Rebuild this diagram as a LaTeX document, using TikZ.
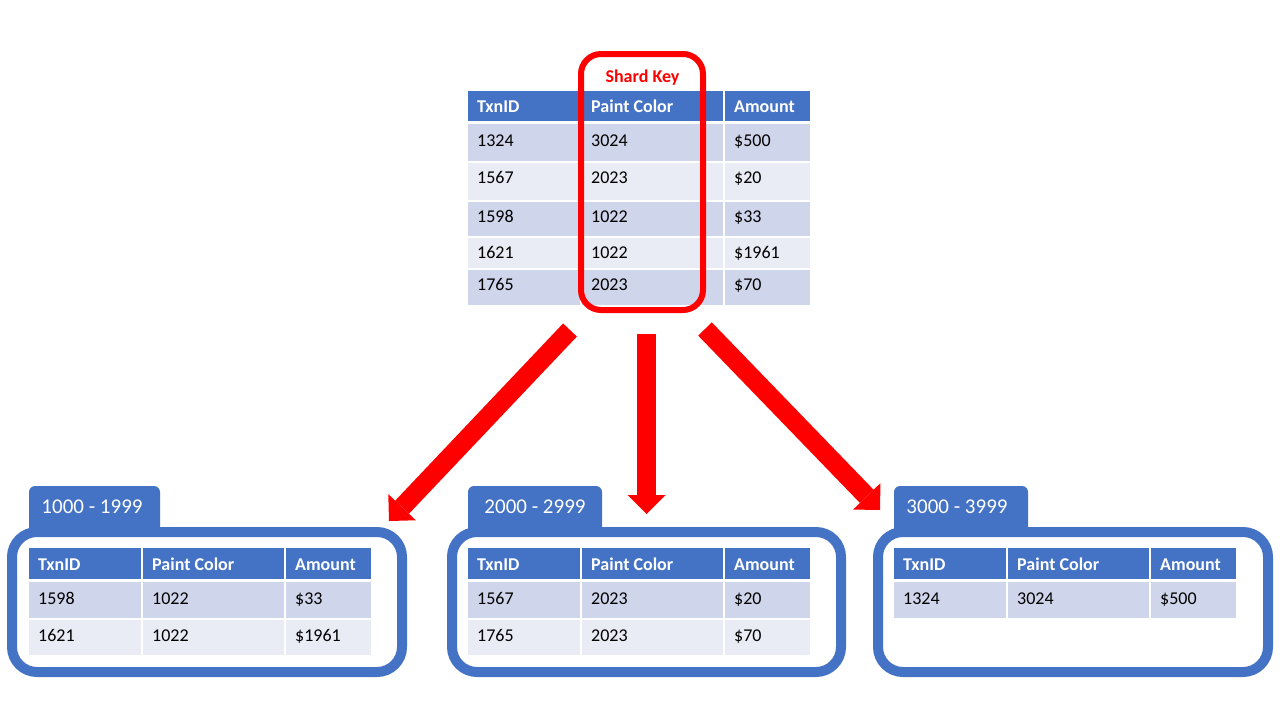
\documentclass[tikz,border=0pt]{standalone}
\usepackage{fontspec}
\setmainfont{Carlito}
\usetikzlibrary{arrows.meta}
\definecolor{hdr}{HTML}{4472C4}
\definecolor{bandA}{HTML}{CFD5EA}
\definecolor{bandB}{HTML}{E9EBF5}
\definecolor{keyred}{HTML}{FF0000}
\tikzset{
  hdrcell/.style={fill=hdr},
  hdrtext/.style={text=white,font=\bfseries\fontsize{18}{20}\selectfont,inner sep=0pt,anchor=base west},
  Acell/.style={fill=bandA},
  Atext/.style={text=black,font=\fontsize{18}{20}\selectfont,inner sep=0pt,anchor=base west},
  Bcell/.style={fill=bandB},
  Btext/.style={text=black,font=\fontsize{18}{20}\selectfont,inner sep=0pt,anchor=base west},
  shardbox/.style={draw=hdr,line width=10pt,rounded corners=25pt},
  shardtab/.style={fill=hdr,rounded corners=6pt},
  tabtext/.style={text=white,font=\fontsize{21}{24}\selectfont,inner sep=0pt,anchor=base},
  keybox/.style={draw=keyred,line width=6pt,rounded corners=20pt},
  keytext/.style={text=keyred,font=\bfseries\fontsize{18}{20}\selectfont,inner sep=0pt,anchor=base},
  bigarrow/.style={draw=keyred,line width=19pt,-{Triangle[width=38pt,length=19pt,line width=0pt]}}
}
% #1 name, #2 table left x, #3 top y, #4 bottom y, #5 baseline, #6 style prefix, #7-#9 texts
\newcommand{\tabrow}[9]{%
  \fill[#6cell] (#2,#3) rectangle (#2+112,#4);
  \fill[#6cell] (#2+114,#3) rectangle (#2+255,#4);
  \fill[#6cell] (#2+257,#3) rectangle (#2+342,#4);
  \node[#6text] (#1a) at (#2+9,#5) {#7};
  \node[#6text] (#1b) at (#2+123,#5) {#8};
  \node[#6text] (#1c) at (#2+266,#5) {#9};
}
\begin{document}
\begin{tikzpicture}[x=1pt,y=-1pt]
\useasboundingbox[fill=white] (0,0) rectangle (1280,720);

% ---- top table ----
\tabrow{th}{468}{91}{121}{112}{hdr}{TxnID}{Paint Color}{Amount}
\tabrow{t1}{468}{124}{161}{146}{A}{1324}{3024}{\$500}
\tabrow{t2}{468}{162.5}{200}{183}{B}{1567}{2023}{\$20}
\tabrow{t3}{468}{201.5}{236}{222.5}{A}{1598}{1022}{\$33}
\tabrow{t4}{468}{237.5}{268}{258.3}{B}{1621}{1022}{\$1961}
\tabrow{t5}{468}{269.5}{304.5}{290}{A}{1765}{2023}{\$70}

\draw[keybox] (581,54) rectangle (703,310);
\node[keytext] (key) at (642.5,82.3) {Shard Key};

% ---- shard 1 ----
\fill[shardtab] (29,532) -- (29,486) -- (160,486) -- (160,532);
\draw[shardbox] (12,532) rectangle (402,672);
\node[tabtext] (lab1) at (92,513.3) {1000 - 1999};
\tabrow{ah}{29}{548}{579}{570}{hdr}{TxnID}{Paint Color}{Amount}
\tabrow{a1}{29}{582}{618}{604}{A}{1598}{1022}{\$33}
\tabrow{a2}{29}{620}{655}{641}{B}{1621}{1022}{\$1961}

% ---- shard 2 ----
\fill[shardtab] (468,532) -- (468,486) -- (602,486) -- (602,532);
\draw[shardbox] (452,532) rectangle (841,672);
\node[tabtext] (lab2) at (535,513.3) {2000 - 2999};
\tabrow{bh}{468}{548}{579}{570}{hdr}{TxnID}{Paint Color}{Amount}
\tabrow{b1}{468}{582}{618}{604}{A}{1567}{2023}{\$20}
\tabrow{b2}{468}{620}{655}{641}{B}{1765}{2023}{\$70}

% ---- shard 3 ----
\fill[shardtab] (894,532) -- (894,486) -- (1028,486) -- (1028,532);
\draw[shardbox] (878,532) rectangle (1268,672);
\node[tabtext] (lab3) at (957,513.3) {3000 - 3999};
\tabrow{ch}{894}{548}{579}{570}{hdr}{TxnID}{Paint Color}{Amount}
\tabrow{c1}{894}{582}{618}{604}{A}{1324}{3024}{\$500}

% ---- arrows ----
\coordinate (la1) at (570,330);
\coordinate (la2) at (389,521);
\coordinate (ma1) at (646.5,334);
\coordinate (ma2) at (646.5,514);
\coordinate (ra1) at (705,329);
\coordinate (ra2) at (880,510);
\draw[bigarrow] (la1) -- (la2);
\draw[bigarrow] (ma1) -- (ma2);
\draw[bigarrow] (ra1) -- (ra2);
\end{tikzpicture}
\end{document}
